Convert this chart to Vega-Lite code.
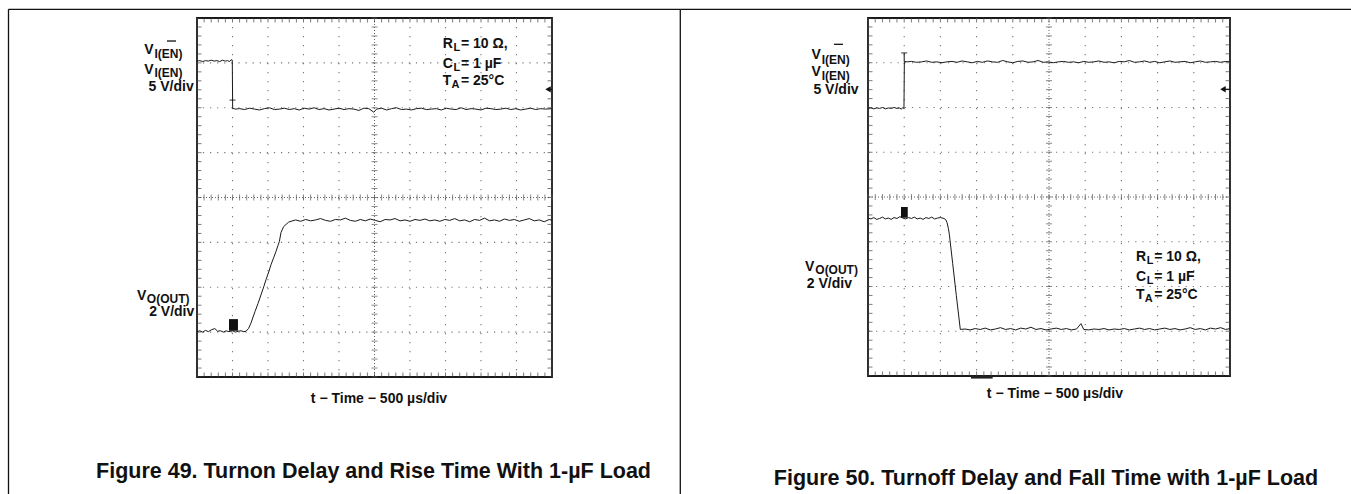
{
"$schema": "https://vega.github.io/schema/vega-lite/v6.json",
"background": "white",
"padding": {"left": 6, "top": 7, "right": 0, "bottom": 0},
"bounds": "flush",
"spacing": 316,
"config": {"view": {"stroke": "#1a1a1a", "strokeWidth": 1.8}, "font": "Liberation Sans"},
"datasets": {
"gx": [{"t":500},{"t":1000},{"t":1500},{"t":2000},{"t":3000},{"t":3500},{"t":4000},{"t":4500}],
"gy": [{"v":-3},{"v":-2},{"v":-1},{"v":1},{"v":2},{"v":3}],
"cx": [{"t":2500}],
"cy": [{"v":0}],
"mx": [{"t":0},{"t":100},{"t":200},{"t":300},{"t":400},{"t":500},{"t":600},{"t":700},{"t":800},{"t":900},{"t":1000},{"t":1100},{"t":1200},{"t":1300},{"t":1400},{"t":1500},{"t":1600},{"t":1700},{"t":1800},{"t":1900},{"t":2000},{"t":2100},{"t":2200},{"t":2300},{"t":2400},{"t":2500},{"t":2600},{"t":2700},{"t":2800},{"t":2900},{"t":3000},{"t":3100},{"t":3200},{"t":3300},{"t":3400},{"t":3500},{"t":3600},{"t":3700},{"t":3800},{"t":3900},{"t":4000},{"t":4100},{"t":4200},{"t":4300},{"t":4400},{"t":4500},{"t":4600},{"t":4700},{"t":4800},{"t":4900},{"t":5000}],
"my": [{"v":-4},{"v":-3.8},{"v":-3.6},{"v":-3.4},{"v":-3.2},{"v":-3},{"v":-2.8},{"v":-2.6},{"v":-2.4},{"v":-2.2},{"v":-2},{"v":-1.8},{"v":-1.6},{"v":-1.4},{"v":-1.2},{"v":-1},{"v":-0.8},{"v":-0.6},{"v":-0.4},{"v":-0.2},{"v":0},{"v":0.2},{"v":0.4},{"v":0.6},{"v":0.8},{"v":1},{"v":1.2},{"v":1.4},{"v":1.6},{"v":1.8},{"v":2},{"v":2.2},{"v":2.4},{"v":2.6},{"v":2.8},{"v":3},{"v":3.2},{"v":3.4},{"v":3.6},{"v":3.8},{"v":4}],
"Ltrace": [
{"ch":1,"t":0,"v":3.04},{"ch":1,"t":40,"v":3.05},{"ch":1,"t":80,"v":3.03},{"ch":1,"t":120,"v":3.05},{"ch":1,"t":160,"v":3.04},{"ch":1,"t":200,"v":3.06},{"ch":1,"t":240,"v":3.04},{"ch":1,"t":280,"v":3.05},{"ch":1,"t":320,"v":3.03},{"ch":1,"t":360,"v":3.06},{"ch":1,"t":400,"v":3.04},{"ch":1,"t":430,"v":3.05},{"ch":1,"t":460,"v":3.03},{"ch":1,"t":480,"v":3.07},{"ch":1,"t":497,"v":3.06},{"ch":1,"t":502,"v":1.99},{"ch":1,"t":540,"v":1.97},
{"ch":1,"t":600,"v":1.98},{"ch":1,"t":670,"v":1.96},{"ch":1,"t":740,"v":1.99},{"ch":1,"t":810,"v":1.97},{"ch":1,"t":880,"v":1.95},{"ch":1,"t":950,"v":1.98},{"ch":1,"t":1020,"v":2.0},{"ch":1,"t":1090,"v":1.96},{"ch":1,"t":1160,"v":1.97},{"ch":1,"t":1230,"v":1.99},{"ch":1,"t":1300,"v":1.96},{"ch":1,"t":1370,"v":1.98},{"ch":1,"t":1440,"v":1.95},{"ch":1,"t":1510,"v":1.99},{"ch":1,"t":1580,"v":1.97},{"ch":1,"t":1650,"v":2.0},{"ch":1,"t":1720,"v":1.96},{"ch":1,"t":1790,"v":1.98},{"ch":1,"t":1860,"v":1.95},{"ch":1,"t":1930,"v":1.97},{"ch":1,"t":2000,"v":1.99},{"ch":1,"t":2070,"v":1.96},{"ch":1,"t":2140,"v":1.98},{"ch":1,"t":2210,"v":1.97},{"ch":1,"t":2280,"v":1.94},{"ch":1,"t":2350,"v":1.99},{"ch":1,"t":2420,"v":1.98},{"ch":1,"t":2490,"v":1.9},{"ch":1,"t":2530,"v":1.97},{"ch":1,"t":2600,"v":1.99},{"ch":1,"t":2670,"v":1.95},{"ch":1,"t":2740,"v":1.98},{"ch":1,"t":2810,"v":2.0},{"ch":1,"t":2880,"v":1.96},{"ch":1,"t":2950,"v":1.97},{"ch":1,"t":3020,"v":1.95},{"ch":1,"t":3090,"v":1.98},{"ch":1,"t":3160,"v":1.99},{"ch":1,"t":3230,"v":1.96},{"ch":1,"t":3300,"v":1.97},{"ch":1,"t":3370,"v":1.98},{"ch":1,"t":3440,"v":1.95},{"ch":1,"t":3510,"v":1.99},{"ch":1,"t":3580,"v":1.97},{"ch":1,"t":3650,"v":1.96},{"ch":1,"t":3720,"v":2.0},{"ch":1,"t":3790,"v":1.96},{"ch":1,"t":3860,"v":1.98},{"ch":1,"t":3930,"v":1.97},{"ch":1,"t":4000,"v":1.95},{"ch":1,"t":4070,"v":1.99},{"ch":1,"t":4140,"v":1.98},{"ch":1,"t":4210,"v":1.96},{"ch":1,"t":4280,"v":1.97},{"ch":1,"t":4350,"v":1.99},{"ch":1,"t":4420,"v":1.96},{"ch":1,"t":4490,"v":1.98},{"ch":1,"t":4560,"v":1.95},{"ch":1,"t":4630,"v":1.97},{"ch":1,"t":4700,"v":1.99},{"ch":1,"t":4770,"v":1.96},{"ch":1,"t":4840,"v":1.98},{"ch":1,"t":4910,"v":1.97},{"ch":1,"t":5000,"v":1.98},
{"ch":2,"t":0,"v":-2.99},{"ch":2,"t":40,"v":-2.97},{"ch":2,"t":80,"v":-3.0},{"ch":2,"t":120,"v":-2.96},{"ch":2,"t":160,"v":-2.99},{"ch":2,"t":200,"v":-2.95},{"ch":2,"t":250,"v":-2.92},{"ch":2,"t":290,"v":-2.98},{"ch":2,"t":330,"v":-2.97},{"ch":2,"t":370,"v":-3.0},{"ch":2,"t":410,"v":-2.97},{"ch":2,"t":450,"v":-2.99},{"ch":2,"t":500,"v":-2.97},{"ch":2,"t":540,"v":-3.0},{"ch":2,"t":580,"v":-2.98},{"ch":2,"t":620,"v":-2.97},{"ch":2,"t":660,"v":-2.99},{"ch":2,"t":690,"v":-2.98},{"ch":2,"t":725,"v":-2.92},{"ch":2,"t":760,"v":-2.8},{"ch":2,"t":817,"v":-2.54},{"ch":2,"t":860,"v":-2.36},{"ch":2,"t":901,"v":-2.17},{"ch":2,"t":940,"v":-1.99},{"ch":2,"t":972,"v":-1.83},{"ch":2,"t":1010,"v":-1.66},{"ch":2,"t":1042,"v":-1.5},{"ch":2,"t":1080,"v":-1.34},{"ch":2,"t":1113,"v":-1.2},{"ch":2,"t":1140,"v":-1.07},{"ch":2,"t":1160,"v":-0.98},{"ch":2,"t":1183,"v":-0.78},{"ch":2,"t":1220,"v":-0.65},{"ch":2,"t":1254,"v":-0.6},{"ch":2,"t":1290,"v":-0.55},{"ch":2,"t":1324,"v":-0.53},
{"ch":2,"t":1390,"v":-0.5},{"ch":2,"t":1460,"v":-0.53},{"ch":2,"t":1530,"v":-0.49},{"ch":2,"t":1600,"v":-0.52},{"ch":2,"t":1670,"v":-0.5},{"ch":2,"t":1740,"v":-0.47},{"ch":2,"t":1810,"v":-0.51},{"ch":2,"t":1880,"v":-0.53},{"ch":2,"t":1950,"v":-0.49},{"ch":2,"t":2020,"v":-0.5},{"ch":2,"t":2090,"v":-0.46},{"ch":2,"t":2160,"v":-0.51},{"ch":2,"t":2230,"v":-0.53},{"ch":2,"t":2300,"v":-0.49},{"ch":2,"t":2370,"v":-0.52},{"ch":2,"t":2440,"v":-0.48},{"ch":2,"t":2510,"v":-0.51},{"ch":2,"t":2580,"v":-0.54},{"ch":2,"t":2650,"v":-0.49},{"ch":2,"t":2720,"v":-0.5},{"ch":2,"t":2790,"v":-0.47},{"ch":2,"t":2860,"v":-0.52},{"ch":2,"t":2930,"v":-0.5},{"ch":2,"t":3000,"v":-0.53},{"ch":2,"t":3070,"v":-0.49},{"ch":2,"t":3140,"v":-0.51},{"ch":2,"t":3210,"v":-0.48},{"ch":2,"t":3280,"v":-0.52},{"ch":2,"t":3350,"v":-0.5},{"ch":2,"t":3420,"v":-0.53},{"ch":2,"t":3490,"v":-0.49},{"ch":2,"t":3560,"v":-0.51},{"ch":2,"t":3630,"v":-0.47},{"ch":2,"t":3700,"v":-0.52},{"ch":2,"t":3770,"v":-0.5},{"ch":2,"t":3840,"v":-0.54},{"ch":2,"t":3910,"v":-0.49},{"ch":2,"t":3980,"v":-0.51},{"ch":2,"t":4050,"v":-0.46},{"ch":2,"t":4120,"v":-0.52},{"ch":2,"t":4190,"v":-0.5},{"ch":2,"t":4260,"v":-0.53},{"ch":2,"t":4330,"v":-0.48},{"ch":2,"t":4400,"v":-0.51},{"ch":2,"t":4470,"v":-0.49},{"ch":2,"t":4540,"v":-0.53},{"ch":2,"t":4610,"v":-0.5},{"ch":2,"t":4680,"v":-0.47},{"ch":2,"t":4750,"v":-0.52},{"ch":2,"t":4820,"v":-0.5},{"ch":2,"t":4890,"v":-0.54},{"ch":2,"t":4960,"v":-0.49},{"ch":2,"t":5000,"v":-0.51}
],
"Ltext": [
{"role":"main","text":"V","t":-742,"v":3.204},
{"role":"main","text":"V","t":-742,"v":2.759},
{"role":"main","text":"V","t":-845,"v":-2.284},
{"role":"main","text":"R","t":3461,"v":3.338},
{"role":"main","text":"C","t":3461,"v":2.892},
{"role":"main","text":"T","t":3461,"v":2.5},
{"role":"main","text":" = 10 Ω,","t":3718,"v":3.338},
{"role":"main","text":" = 1 µF","t":3718,"v":2.892},
{"role":"main","text":" = 25°C","t":3718,"v":2.5},
{"role":"mainR","text":"5 V/div","t":-46,"v":2.373},
{"role":"mainR","text":"2 V/div","t":-38,"v":-2.64},
{"role":"sub","text":"I(EN)","t":-599,"v":3.11},
{"role":"sub","text":"I(EN)","t":-599,"v":2.676},
{"role":"sub","text":"O(OUT)","t":-707,"v":-2.34},
{"role":"sub2","text":"L","t":3613,"v":3.271},
{"role":"sub2","text":"L","t":3613,"v":2.826},
{"role":"sub2","text":"A","t":3585,"v":2.433},
{"role":"center","text":"t − Time − 500 µs/div","t":2563,"v":-4.573},
{"role":"caption","text":"Figure 49. Turnon Delay and Rise Time With 1-µF Load","t":2486,"v":-6.257}
],
"Lover": [{"t":-423,"t2":-296,"v":3.487}],
"Ltrig": [{"t":500,"v":2.17}],
"Lgnd": [{"t":451,"t2":577,"v":-2.71,"v2":-2.97}],
"Larrow": [{"t":4944,"t2":5000,"v":2.411}],
"Lframe": [{"t":-2655,"t2":6807,"v":4.194,"v2":4.194},{"t":-2655,"t2":-2655,"v":4.194,"v2":-7},{"t":6807,"t2":6807,"v":4.194,"v2":-7}],
"Rtrace": [
{"ch":1,"t":0,"v":1.98},{"ch":1,"t":40,"v":1.99},{"ch":1,"t":80,"v":1.97},{"ch":1,"t":120,"v":1.99},{"ch":1,"t":160,"v":1.98},{"ch":1,"t":200,"v":2.0},{"ch":1,"t":240,"v":1.97},{"ch":1,"t":280,"v":1.99},{"ch":1,"t":320,"v":1.98},{"ch":1,"t":360,"v":2.0},{"ch":1,"t":400,"v":1.98},{"ch":1,"t":440,"v":1.99},{"ch":1,"t":460,"v":1.96},{"ch":1,"t":480,"v":2.0},{"ch":1,"t":497,"v":1.98},{"ch":1,"t":502,"v":3.03},{"ch":1,"t":540,"v":3.02},
{"ch":1,"t":600,"v":3.03},{"ch":1,"t":670,"v":3.01},{"ch":1,"t":740,"v":3.02},{"ch":1,"t":810,"v":3.04},{"ch":1,"t":880,"v":3.01},{"ch":1,"t":950,"v":3.02},{"ch":1,"t":1020,"v":3.0},{"ch":1,"t":1090,"v":3.02},{"ch":1,"t":1160,"v":3.03},{"ch":1,"t":1230,"v":3.01},{"ch":1,"t":1300,"v":3.04},{"ch":1,"t":1370,"v":3.02},{"ch":1,"t":1440,"v":3.0},{"ch":1,"t":1510,"v":3.03},{"ch":1,"t":1580,"v":3.01},{"ch":1,"t":1650,"v":3.04},{"ch":1,"t":1720,"v":3.02},{"ch":1,"t":1790,"v":3.01},{"ch":1,"t":1860,"v":3.05},{"ch":1,"t":1930,"v":3.02},{"ch":1,"t":2000,"v":3.0},{"ch":1,"t":2070,"v":3.03},{"ch":1,"t":2140,"v":3.04},{"ch":1,"t":2210,"v":3.01},{"ch":1,"t":2280,"v":3.02},{"ch":1,"t":2350,"v":3.05},{"ch":1,"t":2420,"v":3.01},{"ch":1,"t":2490,"v":3.02},{"ch":1,"t":2560,"v":3.0},{"ch":1,"t":2630,"v":3.02},{"ch":1,"t":2700,"v":3.03},{"ch":1,"t":2770,"v":3.01},{"ch":1,"t":2840,"v":3.02},{"ch":1,"t":2910,"v":3.0},{"ch":1,"t":2980,"v":3.03},{"ch":1,"t":3050,"v":3.01},{"ch":1,"t":3120,"v":3.02},{"ch":1,"t":3190,"v":3.04},{"ch":1,"t":3260,"v":3.01},{"ch":1,"t":3330,"v":3.02},{"ch":1,"t":3400,"v":3.0},{"ch":1,"t":3470,"v":3.03},{"ch":1,"t":3540,"v":3.02},{"ch":1,"t":3610,"v":3.05},{"ch":1,"t":3680,"v":3.01},{"ch":1,"t":3750,"v":3.02},{"ch":1,"t":3820,"v":3.04},{"ch":1,"t":3890,"v":3.01},{"ch":1,"t":3960,"v":3.03},{"ch":1,"t":4030,"v":3.0},{"ch":1,"t":4100,"v":3.02},{"ch":1,"t":4170,"v":3.04},{"ch":1,"t":4240,"v":3.01},{"ch":1,"t":4310,"v":3.02},{"ch":1,"t":4380,"v":3.03},{"ch":1,"t":4450,"v":3.0},{"ch":1,"t":4520,"v":3.02},{"ch":1,"t":4590,"v":3.04},{"ch":1,"t":4660,"v":3.01},{"ch":1,"t":4730,"v":3.02},{"ch":1,"t":4800,"v":3.03},{"ch":1,"t":4870,"v":3.01},{"ch":1,"t":4940,"v":3.03},{"ch":1,"t":5000,"v":3.02},
{"ch":2,"t":0,"v":-0.47},{"ch":2,"t":40,"v":-0.49},{"ch":2,"t":80,"v":-0.46},{"ch":2,"t":120,"v":-0.5},{"ch":2,"t":160,"v":-0.48},{"ch":2,"t":200,"v":-0.45},{"ch":2,"t":240,"v":-0.49},{"ch":2,"t":280,"v":-0.47},{"ch":2,"t":320,"v":-0.5},{"ch":2,"t":360,"v":-0.46},{"ch":2,"t":400,"v":-0.48},{"ch":2,"t":440,"v":-0.44},{"ch":2,"t":480,"v":-0.47},{"ch":2,"t":520,"v":-0.49},{"ch":2,"t":560,"v":-0.46},{"ch":2,"t":600,"v":-0.48},{"ch":2,"t":640,"v":-0.45},{"ch":2,"t":680,"v":-0.49},{"ch":2,"t":720,"v":-0.47},{"ch":2,"t":760,"v":-0.5},{"ch":2,"t":800,"v":-0.46},{"ch":2,"t":840,"v":-0.48},{"ch":2,"t":880,"v":-0.45},{"ch":2,"t":920,"v":-0.49},{"ch":2,"t":960,"v":-0.47},{"ch":2,"t":1000,"v":-0.46},{"ch":2,"t":1050,"v":-0.48},{"ch":2,"t":1075,"v":-0.51},{"ch":2,"t":1091,"v":-0.57},{"ch":2,"t":1110,"v":-0.7},{"ch":2,"t":1123,"v":-0.83},{"ch":2,"t":1170,"v":-1.49},{"ch":2,"t":1220,"v":-2.2},{"ch":2,"t":1275,"v":-2.96},
{"ch":2,"t":1340,"v":-2.95},{"ch":2,"t":1410,"v":-2.97},{"ch":2,"t":1480,"v":-2.94},{"ch":2,"t":1550,"v":-2.96},{"ch":2,"t":1620,"v":-2.93},{"ch":2,"t":1690,"v":-2.97},{"ch":2,"t":1760,"v":-2.95},{"ch":2,"t":1830,"v":-2.92},{"ch":2,"t":1900,"v":-2.96},{"ch":2,"t":1970,"v":-2.94},{"ch":2,"t":2040,"v":-2.97},{"ch":2,"t":2110,"v":-2.93},{"ch":2,"t":2180,"v":-2.95},{"ch":2,"t":2250,"v":-2.91},{"ch":2,"t":2320,"v":-2.96},{"ch":2,"t":2390,"v":-2.94},{"ch":2,"t":2460,"v":-2.97},{"ch":2,"t":2530,"v":-2.95},{"ch":2,"t":2600,"v":-2.93},{"ch":2,"t":2670,"v":-2.96},{"ch":2,"t":2740,"v":-2.94},{"ch":2,"t":2810,"v":-2.97},{"ch":2,"t":2880,"v":-2.95},{"ch":2,"t":2941,"v":-2.83},{"ch":2,"t":2980,"v":-2.96},{"ch":2,"t":3050,"v":-2.97},{"ch":2,"t":3120,"v":-2.95},{"ch":2,"t":3190,"v":-2.96},{"ch":2,"t":3260,"v":-2.94},{"ch":2,"t":3330,"v":-2.97},{"ch":2,"t":3400,"v":-2.95},{"ch":2,"t":3470,"v":-2.96},{"ch":2,"t":3540,"v":-2.94},{"ch":2,"t":3610,"v":-2.97},{"ch":2,"t":3680,"v":-2.95},{"ch":2,"t":3750,"v":-2.93},{"ch":2,"t":3820,"v":-2.96},{"ch":2,"t":3890,"v":-2.94},{"ch":2,"t":3960,"v":-2.97},{"ch":2,"t":4030,"v":-2.95},{"ch":2,"t":4100,"v":-2.93},{"ch":2,"t":4170,"v":-2.96},{"ch":2,"t":4240,"v":-2.94},{"ch":2,"t":4310,"v":-2.97},{"ch":2,"t":4380,"v":-2.95},{"ch":2,"t":4450,"v":-2.92},{"ch":2,"t":4520,"v":-2.96},{"ch":2,"t":4590,"v":-2.94},{"ch":2,"t":4660,"v":-2.97},{"ch":2,"t":4730,"v":-2.93},{"ch":2,"t":4800,"v":-2.95},{"ch":2,"t":4870,"v":-2.92},{"ch":2,"t":4940,"v":-2.96},{"ch":2,"t":5000,"v":-2.94}
],
"Rtext": [
{"role":"main","text":"V","t":-780,"v":3.077},
{"role":"main","text":"V","t":-780,"v":2.704},
{"role":"main","text":"V","t":-870,"v":-1.654},
{"role":"main","text":"R","t":3701,"v":-1.43},
{"role":"main","text":"C","t":3701,"v":-1.866},
{"role":"main","text":"T","t":3701,"v":-2.286},
{"role":"main","text":" = 10 Ω,","t":3954,"v":-1.43},
{"role":"main","text":" = 1 µF","t":3954,"v":-1.866},
{"role":"main","text":" = 25°C","t":3954,"v":-2.286},
{"role":"mainR","text":"5 V/div","t":-130,"v":2.295},
{"role":"mainR","text":"2 V/div","t":-221,"v":-2.027},
{"role":"sub","text":"I(EN)","t":-639,"v":2.983},
{"role":"sub","text":"I(EN)","t":-639,"v":2.621},
{"role":"sub","text":"O(OUT)","t":-728,"v":-1.71},
{"role":"sub2","text":"L","t":3850,"v":-1.497},
{"role":"sub2","text":"L","t":3850,"v":-1.933},
{"role":"sub2","text":"A","t":3823,"v":-2.353},
{"role":"center","text":"t − Time − 500 µs/div","t":2582,"v":-4.485},
{"role":"caption","text":"Figure 50. Turnoff Delay and Fall Time with 1-µF Load","t":2458,"v":-6.436}
],
"Rover": [{"t":-470,"t2":-345,"v":3.412}],
"Rtrig": [{"t":500,"v":3.22}],
"Rstem": [{"t":500,"v":3.03,"v2":3.22}],
"Rgnd": [{"t":456,"t2":549,"v":-0.223,"v2":-0.463}],
"Rarrow": [{"t":4903,"t2":5000,"v":2.407}],
"Rbar": [{"t":1422,"t2":1722,"v":-4.03}],
"Rframe": [{"t":-2592,"t2":6739,"v":4.194,"v2":4.194}]
},
"hconcat": [
{
"width": 355, "height": 359,
"layer": [
{"data": {"name": "gx"}, "mark": {"type": "rule", "stroke": "#777", "strokeWidth": 1.1, "strokeDash": [1.2, 7.8]}, "encoding": {"x": {"field": "t", "type": "quantitative", "scale": {"domain": [0, 5000], "nice": false, "zero": false}, "axis": null}}},
{"data": {"name": "gy"}, "mark": {"type": "rule", "stroke": "#777", "strokeWidth": 1.1, "strokeDash": [1.2, 5.9]}, "encoding": {"y": {"field": "v", "type": "quantitative", "scale": {"domain": [-4, 4], "nice": false, "zero": false}, "axis": null}}},
{"data": {"name": "cx"}, "mark": {"type": "rule", "stroke": "#666", "strokeWidth": 1, "strokeDash": [1, 2]}, "encoding": {"x": {"field": "t", "type": "quantitative"}}},
{"data": {"name": "cy"}, "mark": {"type": "rule", "stroke": "#666", "strokeWidth": 1, "strokeDash": [1, 2]}, "encoding": {"y": {"field": "v", "type": "quantitative"}}},
{"data": {"name": "mx"}, "mark": {"type": "tick", "orient": "vertical", "size": 6, "thickness": 1, "color": "#555"}, "encoding": {"x": {"field": "t", "type": "quantitative"}, "y": {"datum": 0, "type": "quantitative"}}},
{"data": {"name": "mx"}, "mark": {"type": "tick", "orient": "vertical", "size": 9, "thickness": 1, "color": "#444", "clip": true}, "encoding": {"x": {"field": "t", "type": "quantitative"}, "y": {"datum": 4, "type": "quantitative"}}},
{"data": {"name": "mx"}, "mark": {"type": "tick", "orient": "vertical", "size": 9, "thickness": 1, "color": "#444", "clip": true}, "encoding": {"x": {"field": "t", "type": "quantitative"}, "y": {"datum": -4, "type": "quantitative"}}},
{"data": {"name": "my"}, "mark": {"type": "tick", "orient": "horizontal", "size": 6, "thickness": 1, "color": "#555"}, "encoding": {"y": {"field": "v", "type": "quantitative"}, "x": {"datum": 2500, "type": "quantitative"}}},
{"data": {"name": "my"}, "mark": {"type": "tick", "orient": "horizontal", "size": 9, "thickness": 1, "color": "#444", "clip": true}, "encoding": {"y": {"field": "v", "type": "quantitative"}, "x": {"datum": 0, "type": "quantitative"}}},
{"data": {"name": "my"}, "mark": {"type": "tick", "orient": "horizontal", "size": 9, "thickness": 1, "color": "#444", "clip": true}, "encoding": {"y": {"field": "v", "type": "quantitative"}, "x": {"datum": 5000, "type": "quantitative"}}},
{"data": {"name": "Ltrace"}, "mark": {"type": "line", "stroke": "#1a1a1a", "strokeWidth": 1}, "encoding": {"x": {"field": "t", "type": "quantitative"}, "y": {"field": "v", "type": "quantitative"}, "detail": {"field": "ch", "type": "nominal"}}},
{"data": {"name": "Ltrig"}, "mark": {"type": "tick", "orient": "horizontal", "size": 6, "thickness": 1.2, "color": "#111"}, "encoding": {"x": {"field": "t", "type": "quantitative"}, "y": {"field": "v", "type": "quantitative"}}},
{"data": {"name": "Lgnd"}, "mark": {"type": "rect", "color": "#111"}, "encoding": {"x": {"field": "t", "type": "quantitative"}, "x2": {"field": "t2"}, "y": {"field": "v", "type": "quantitative"}, "y2": {"field": "v2"}}},
{"data": {"name": "Larrow"}, "mark": {"type": "rule", "stroke": "#111", "strokeWidth": 1.2}, "encoding": {"x": {"field": "t", "type": "quantitative"}, "x2": {"field": "t2"}, "y": {"field": "v", "type": "quantitative"}}},
{"data": {"name": "Larrow"}, "mark": {"type": "point", "shape": "triangle-left", "filled": true, "size": 40, "color": "#111", "opacity": 1}, "encoding": {"x": {"field": "t", "type": "quantitative"}, "y": {"field": "v", "type": "quantitative"}}},
{"data": {"name": "Lover"}, "mark": {"type": "rule", "stroke": "#111", "strokeWidth": 1.3}, "encoding": {"x": {"field": "t", "type": "quantitative"}, "x2": {"field": "t2"}, "y": {"field": "v", "type": "quantitative"}}},
{"data": {"name": "Ltext"}, "transform": [{"filter": "datum.role === 'main'"}], "mark": {"type": "text", "align": "left", "baseline": "alphabetic", "fontSize": 14, "fontWeight": "bold", "color": "#111"}, "encoding": {"x": {"field": "t", "type": "quantitative"}, "y": {"field": "v", "type": "quantitative"}, "text": {"field": "text"}}},
{"data": {"name": "Ltext"}, "transform": [{"filter": "datum.role === 'mainR'"}], "mark": {"type": "text", "align": "right", "baseline": "alphabetic", "fontSize": 14, "fontWeight": "bold", "color": "#111"}, "encoding": {"x": {"field": "t", "type": "quantitative"}, "y": {"field": "v", "type": "quantitative"}, "text": {"field": "text"}}},
{"data": {"name": "Ltext"}, "transform": [{"filter": "datum.role === 'sub'"}], "mark": {"type": "text", "align": "left", "baseline": "alphabetic", "fontSize": 12, "fontWeight": "bold", "color": "#111"}, "encoding": {"x": {"field": "t", "type": "quantitative"}, "y": {"field": "v", "type": "quantitative"}, "text": {"field": "text"}}},
{"data": {"name": "Ltext"}, "transform": [{"filter": "datum.role === 'sub2'"}], "mark": {"type": "text", "align": "left", "baseline": "alphabetic", "fontSize": 11, "fontWeight": "bold", "color": "#111"}, "encoding": {"x": {"field": "t", "type": "quantitative"}, "y": {"field": "v", "type": "quantitative"}, "text": {"field": "text"}}},
{"data": {"name": "Ltext"}, "transform": [{"filter": "datum.role === 'center'"}], "mark": {"type": "text", "align": "center", "baseline": "alphabetic", "fontSize": 14, "fontWeight": "bold", "color": "#111"}, "encoding": {"x": {"field": "t", "type": "quantitative"}, "y": {"field": "v", "type": "quantitative"}, "text": {"field": "text"}}},
{"data": {"name": "Ltext"}, "transform": [{"filter": "datum.role === 'caption'"}], "mark": {"type": "text", "align": "center", "baseline": "alphabetic", "fontSize": 21.5, "fontWeight": "bold", "color": "#111"}, "encoding": {"x": {"field": "t", "type": "quantitative"}, "y": {"field": "v", "type": "quantitative"}, "text": {"field": "text"}}},
{"data": {"name": "Lframe"}, "mark": {"type": "rule", "stroke": "#111", "strokeWidth": 1.3}, "encoding": {"x": {"field": "t", "type": "quantitative"}, "x2": {"field": "t2"}, "y": {"field": "v", "type": "quantitative"}, "y2": {"field": "v2"}}}
]
},
{
"width": 362, "height": 358,
"layer": [
{"data": {"name": "gx"}, "mark": {"type": "rule", "stroke": "#777", "strokeWidth": 1.1, "strokeDash": [1.2, 7.8]}, "encoding": {"x": {"field": "t", "type": "quantitative", "scale": {"domain": [0, 5000], "nice": false, "zero": false}, "axis": null}}},
{"data": {"name": "gy"}, "mark": {"type": "rule", "stroke": "#777", "strokeWidth": 1.1, "strokeDash": [1.2, 6]}, "encoding": {"y": {"field": "v", "type": "quantitative", "scale": {"domain": [-4, 4], "nice": false, "zero": false}, "axis": null}}},
{"data": {"name": "cx"}, "mark": {"type": "rule", "stroke": "#666", "strokeWidth": 1, "strokeDash": [1, 2]}, "encoding": {"x": {"field": "t", "type": "quantitative"}}},
{"data": {"name": "cy"}, "mark": {"type": "rule", "stroke": "#666", "strokeWidth": 1, "strokeDash": [1, 2]}, "encoding": {"y": {"field": "v", "type": "quantitative"}}},
{"data": {"name": "mx"}, "mark": {"type": "tick", "orient": "vertical", "size": 6, "thickness": 1, "color": "#555"}, "encoding": {"x": {"field": "t", "type": "quantitative"}, "y": {"datum": 0, "type": "quantitative"}}},
{"data": {"name": "mx"}, "mark": {"type": "tick", "orient": "vertical", "size": 9, "thickness": 1, "color": "#444", "clip": true}, "encoding": {"x": {"field": "t", "type": "quantitative"}, "y": {"datum": 4, "type": "quantitative"}}},
{"data": {"name": "mx"}, "mark": {"type": "tick", "orient": "vertical", "size": 9, "thickness": 1, "color": "#444", "clip": true}, "encoding": {"x": {"field": "t", "type": "quantitative"}, "y": {"datum": -4, "type": "quantitative"}}},
{"data": {"name": "my"}, "mark": {"type": "tick", "orient": "horizontal", "size": 6, "thickness": 1, "color": "#555"}, "encoding": {"y": {"field": "v", "type": "quantitative"}, "x": {"datum": 2500, "type": "quantitative"}}},
{"data": {"name": "my"}, "mark": {"type": "tick", "orient": "horizontal", "size": 9, "thickness": 1, "color": "#444", "clip": true}, "encoding": {"y": {"field": "v", "type": "quantitative"}, "x": {"datum": 0, "type": "quantitative"}}},
{"data": {"name": "my"}, "mark": {"type": "tick", "orient": "horizontal", "size": 9, "thickness": 1, "color": "#444", "clip": true}, "encoding": {"y": {"field": "v", "type": "quantitative"}, "x": {"datum": 5000, "type": "quantitative"}}},
{"data": {"name": "Rtrace"}, "mark": {"type": "line", "stroke": "#1a1a1a", "strokeWidth": 1}, "encoding": {"x": {"field": "t", "type": "quantitative"}, "y": {"field": "v", "type": "quantitative"}, "detail": {"field": "ch", "type": "nominal"}}},
{"data": {"name": "Rstem"}, "mark": {"type": "rule", "stroke": "#111", "strokeWidth": 1}, "encoding": {"x": {"field": "t", "type": "quantitative"}, "y": {"field": "v", "type": "quantitative"}, "y2": {"field": "v2"}}},
{"data": {"name": "Rtrig"}, "mark": {"type": "tick", "orient": "horizontal", "size": 6, "thickness": 1.2, "color": "#111"}, "encoding": {"x": {"field": "t", "type": "quantitative"}, "y": {"field": "v", "type": "quantitative"}}},
{"data": {"name": "Rgnd"}, "mark": {"type": "rect", "color": "#111"}, "encoding": {"x": {"field": "t", "type": "quantitative"}, "x2": {"field": "t2"}, "y": {"field": "v", "type": "quantitative"}, "y2": {"field": "v2"}}},
{"data": {"name": "Rarrow"}, "mark": {"type": "rule", "stroke": "#111", "strokeWidth": 1.2}, "encoding": {"x": {"field": "t", "type": "quantitative"}, "x2": {"field": "t2"}, "y": {"field": "v", "type": "quantitative"}}},
{"data": {"name": "Rarrow"}, "mark": {"type": "point", "shape": "triangle-left", "filled": true, "size": 40, "color": "#111", "opacity": 1}, "encoding": {"x": {"field": "t", "type": "quantitative"}, "y": {"field": "v", "type": "quantitative"}}},
{"data": {"name": "Rbar"}, "mark": {"type": "rule", "stroke": "#222", "strokeWidth": 2.5}, "encoding": {"x": {"field": "t", "type": "quantitative"}, "x2": {"field": "t2"}, "y": {"field": "v", "type": "quantitative"}}},
{"data": {"name": "Rover"}, "mark": {"type": "rule", "stroke": "#111", "strokeWidth": 1.3}, "encoding": {"x": {"field": "t", "type": "quantitative"}, "x2": {"field": "t2"}, "y": {"field": "v", "type": "quantitative"}}},
{"data": {"name": "Rtext"}, "transform": [{"filter": "datum.role === 'main'"}], "mark": {"type": "text", "align": "left", "baseline": "alphabetic", "fontSize": 14, "fontWeight": "bold", "color": "#111"}, "encoding": {"x": {"field": "t", "type": "quantitative"}, "y": {"field": "v", "type": "quantitative"}, "text": {"field": "text"}}},
{"data": {"name": "Rtext"}, "transform": [{"filter": "datum.role === 'mainR'"}], "mark": {"type": "text", "align": "right", "baseline": "alphabetic", "fontSize": 14, "fontWeight": "bold", "color": "#111"}, "encoding": {"x": {"field": "t", "type": "quantitative"}, "y": {"field": "v", "type": "quantitative"}, "text": {"field": "text"}}},
{"data": {"name": "Rtext"}, "transform": [{"filter": "datum.role === 'sub'"}], "mark": {"type": "text", "align": "left", "baseline": "alphabetic", "fontSize": 12, "fontWeight": "bold", "color": "#111"}, "encoding": {"x": {"field": "t", "type": "quantitative"}, "y": {"field": "v", "type": "quantitative"}, "text": {"field": "text"}}},
{"data": {"name": "Rtext"}, "transform": [{"filter": "datum.role === 'sub2'"}], "mark": {"type": "text", "align": "left", "baseline": "alphabetic", "fontSize": 11, "fontWeight": "bold", "color": "#111"}, "encoding": {"x": {"field": "t", "type": "quantitative"}, "y": {"field": "v", "type": "quantitative"}, "text": {"field": "text"}}},
{"data": {"name": "Rtext"}, "transform": [{"filter": "datum.role === 'center'"}], "mark": {"type": "text", "align": "center", "baseline": "alphabetic", "fontSize": 14, "fontWeight": "bold", "color": "#111"}, "encoding": {"x": {"field": "t", "type": "quantitative"}, "y": {"field": "v", "type": "quantitative"}, "text": {"field": "text"}}},
{"data": {"name": "Rtext"}, "transform": [{"filter": "datum.role === 'caption'"}], "mark": {"type": "text", "align": "center", "baseline": "alphabetic", "fontSize": 21.5, "fontWeight": "bold", "color": "#111"}, "encoding": {"x": {"field": "t", "type": "quantitative"}, "y": {"field": "v", "type": "quantitative"}, "text": {"field": "text"}}},
{"data": {"name": "Rframe"}, "mark": {"type": "rule", "stroke": "#111", "strokeWidth": 1.3}, "encoding": {"x": {"field": "t", "type": "quantitative"}, "x2": {"field": "t2"}, "y": {"field": "v", "type": "quantitative"}, "y2": {"field": "v2"}}}
]
}
]
}
